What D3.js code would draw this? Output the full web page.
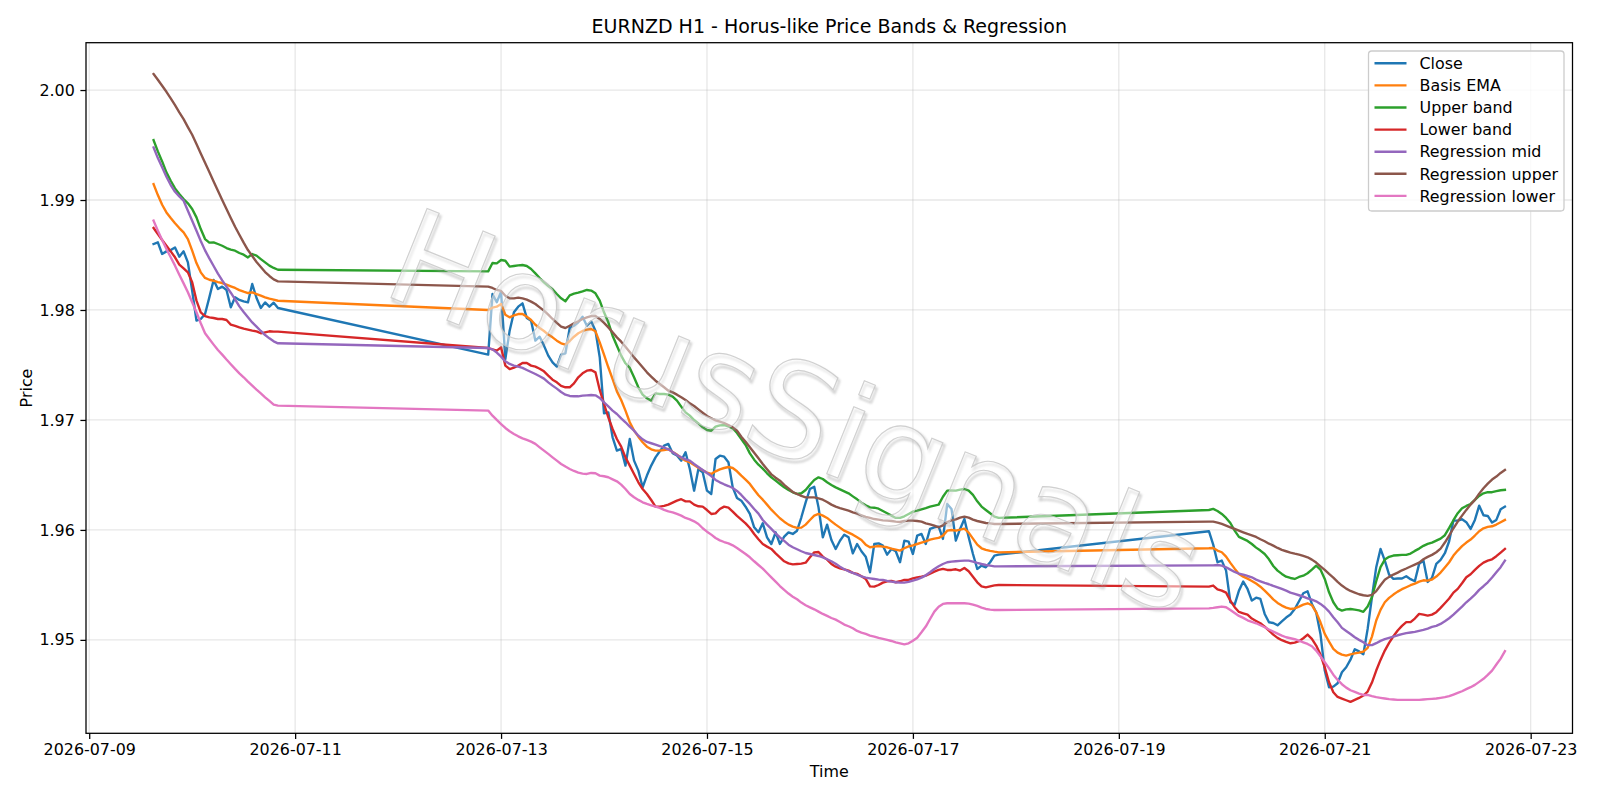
<!DOCTYPE html>
<html>
<head>
<meta charset="utf-8">
<script src="https://cdn.jsdelivr.net/npm/d3@7"></script>
<style>
  body { margin: 0; background: #fff; }
  text { font-family: "DejaVu Sans", sans-serif; }
</style>
</head>
<body>
<div id="chart"></div>
<script>
// hourly sessions: first bar (UTC) and number of bars
var sessions = [["2026-07-09T15:00:00Z", 30], ["2026-07-12T21:00:00Z", 120], ["2026-07-19T21:00:00Z", 70]];

var closePrice = [
  1.98600, 1.98615, 1.98509, 1.98533, 1.98545, 1.98569, 1.98485, 1.98533, 1.98433, 1.98175,
  1.97903, 1.97918, 1.97964, 1.98115, 1.98273, 1.98191, 1.98212, 1.98182, 1.98024, 1.98115,
  1.98091, 1.98078, 1.98069, 1.98236, 1.98109, 1.98018, 1.98069, 1.98030, 1.98066, 1.98018,
  1.97594, 1.98145, 1.98070, 1.98166, 1.97554, 1.97812, 1.97979, 1.98030, 1.98060, 1.97927,
  1.97903, 1.97721, 1.97757, 1.97676, 1.97585, 1.97524, 1.97485, 1.97594, 1.97606, 1.97836,
  1.97857, 1.97888, 1.97939, 1.97857, 1.97897, 1.97812, 1.97570, 1.97060, 1.97069, 1.96842,
  1.96721, 1.96736, 1.96585, 1.96827, 1.96630, 1.96539, 1.96388, 1.96494, 1.96585, 1.96660,
  1.96715, 1.96766, 1.96782, 1.96697, 1.96676, 1.96630, 1.96706, 1.96554, 1.96357, 1.96554,
  1.96524, 1.96357, 1.96327, 1.96645, 1.96675, 1.96666, 1.96615, 1.96387, 1.96290, 1.96266,
  1.96211, 1.96145, 1.96024, 1.95978, 1.96060, 1.95933, 1.95872, 1.95978, 1.95872, 1.95939,
  1.95978, 1.95963, 1.95993, 1.96115, 1.96251, 1.96372, 1.96393, 1.96205, 1.95933, 1.96048,
  1.95908, 1.95827, 1.95902, 1.95957, 1.95933, 1.95787, 1.95872, 1.95806, 1.95757, 1.95615,
  1.95872, 1.95878, 1.95857, 1.95775, 1.95827, 1.95806, 1.95706, 1.95902, 1.95893, 1.95781,
  1.95948, 1.95963, 1.95872, 1.96009, 1.96024, 1.96030, 1.95918, 1.96236, 1.96190, 1.95902,
  1.96009, 1.96100, 1.95933, 1.95781, 1.95645, 1.95675, 1.95660, 1.95706, 1.95766, 1.95775,
  1.95988, 1.95866, 1.95706, 1.95721, 1.95630, 1.95342, 1.95321, 1.95448, 1.95530, 1.95463,
  1.95357, 1.95384, 1.95372, 1.95236, 1.95160, 1.95154, 1.95133, 1.95169, 1.95203, 1.95230,
  1.95281, 1.95351, 1.95424, 1.95442, 1.95327, 1.95251, 1.95054, 1.94721, 1.94569, 1.94575,
  1.94606, 1.94706, 1.94751, 1.94820, 1.94915, 1.94895, 1.94870, 1.95100, 1.95388, 1.95661,
  1.95827, 1.95721, 1.95594, 1.95555, 1.95558, 1.95558, 1.95579, 1.95552, 1.95533, 1.95691,
  1.95721, 1.95527, 1.95564, 1.95691, 1.95727, 1.95788, 1.95897, 1.96085, 1.96085, 1.96097,
  1.96070, 1.96009, 1.96091, 1.96221, 1.96133, 1.96127, 1.96067, 1.96091, 1.96188, 1.96212
];

var basisEma = [
  1.99145, 1.99045, 1.98957, 1.98887, 1.98836, 1.98788, 1.98745, 1.98706, 1.98645, 1.98539,
  1.98427, 1.98342, 1.98291, 1.98275, 1.98266, 1.98254, 1.98245, 1.98230, 1.98215, 1.98200,
  1.98181, 1.98166, 1.98154, 1.98160, 1.98145, 1.98130, 1.98115, 1.98103, 1.98094, 1.98084,
  1.98000, 1.98021, 1.98030, 1.98054, 1.97957, 1.97933, 1.97951, 1.97963, 1.97963, 1.97939,
  1.97909, 1.97866, 1.97836, 1.97809, 1.97776, 1.97751, 1.97721, 1.97697, 1.97685, 1.97718,
  1.97757, 1.97788, 1.97809, 1.97821, 1.97827, 1.97806, 1.97706, 1.97594, 1.97479, 1.97372,
  1.97260, 1.97182, 1.97085, 1.96979, 1.96903, 1.96848, 1.96797, 1.96757, 1.96733, 1.96721,
  1.96721, 1.96727, 1.96733, 1.96709, 1.96685, 1.96654, 1.96630, 1.96615, 1.96590, 1.96566,
  1.96542, 1.96521, 1.96509, 1.96533, 1.96551, 1.96563, 1.96572, 1.96563, 1.96533, 1.96493,
  1.96457, 1.96418, 1.96366, 1.96315, 1.96275, 1.96230, 1.96184, 1.96145, 1.96106, 1.96075,
  1.96048, 1.96030, 1.96018, 1.96021, 1.96048, 1.96090, 1.96130, 1.96145, 1.96130, 1.96109,
  1.96078, 1.96048, 1.96021, 1.95993, 1.95975, 1.95957, 1.95933, 1.95908, 1.95866, 1.95842,
  1.95848, 1.95854, 1.95848, 1.95842, 1.95830, 1.95821, 1.95812, 1.95833, 1.95851, 1.95860,
  1.95872, 1.95884, 1.95896, 1.95912, 1.95921, 1.95927, 1.95948, 1.95993, 1.95999, 1.95993,
  1.96002, 1.96012, 1.95975, 1.95921, 1.95866, 1.95833, 1.95818, 1.95809, 1.95802, 1.95796,
  1.95833, 1.95836, 1.95812, 1.95797, 1.95757, 1.95700, 1.95648, 1.95600, 1.95575, 1.95557,
  1.95536, 1.95512, 1.95484, 1.95448, 1.95409, 1.95369, 1.95336, 1.95312, 1.95294, 1.95281,
  1.95287, 1.95303, 1.95321, 1.95333, 1.95315, 1.95251, 1.95160, 1.95054, 1.94984, 1.94918,
  1.94884, 1.94866, 1.94857, 1.94869, 1.94878, 1.94884, 1.94894, 1.94927, 1.95030, 1.95176,
  1.95273, 1.95342, 1.95382, 1.95412, 1.95439, 1.95461, 1.95479, 1.95497, 1.95512, 1.95530,
  1.95542, 1.95539, 1.95549, 1.95576, 1.95612, 1.95658, 1.95706, 1.95767, 1.95812, 1.95852,
  1.95885, 1.95912, 1.95949, 1.95988, 1.96015, 1.96027, 1.96033, 1.96049, 1.96070, 1.96091
];

var upperBand = [
  1.99545, 1.99442, 1.99351, 1.99251, 1.99175, 1.99106, 1.99054, 1.99009, 1.98970, 1.98918,
  1.98842, 1.98736, 1.98645, 1.98612, 1.98615, 1.98600, 1.98584, 1.98563, 1.98548, 1.98539,
  1.98518, 1.98503, 1.98478, 1.98509, 1.98494, 1.98463, 1.98433, 1.98403, 1.98382, 1.98366,
  1.98351, 1.98427, 1.98424, 1.98454, 1.98448, 1.98394, 1.98400, 1.98406, 1.98409, 1.98400,
  1.98373, 1.98333, 1.98291, 1.98251, 1.98218, 1.98188, 1.98145, 1.98106, 1.98079, 1.98133,
  1.98148, 1.98157, 1.98169, 1.98182, 1.98176, 1.98151, 1.98085, 1.97979, 1.97888, 1.97766,
  1.97675, 1.97585, 1.97515, 1.97473, 1.97388, 1.97297, 1.97230, 1.97197, 1.97176, 1.97242,
  1.97236, 1.97236, 1.97230, 1.97212, 1.97176, 1.97121, 1.97069, 1.97039, 1.96999, 1.96969,
  1.96933, 1.96909, 1.96902, 1.96939, 1.96951, 1.96954, 1.96942, 1.96924, 1.96881, 1.96827,
  1.96772, 1.96696, 1.96639, 1.96593, 1.96557, 1.96515, 1.96478, 1.96448, 1.96418, 1.96387,
  1.96363, 1.96342, 1.96327, 1.96333, 1.96363, 1.96411, 1.96454, 1.96478, 1.96463, 1.96433,
  1.96409, 1.96387, 1.96369, 1.96351, 1.96333, 1.96305, 1.96278, 1.96248, 1.96224, 1.96205,
  1.96202, 1.96193, 1.96172, 1.96151, 1.96130, 1.96109, 1.96109, 1.96124, 1.96145, 1.96166,
  1.96175, 1.96187, 1.96199, 1.96212, 1.96221, 1.96230, 1.96302, 1.96357, 1.96360, 1.96357,
  1.96366, 1.96372, 1.96357, 1.96318, 1.96260, 1.96212, 1.96181, 1.96151, 1.96121, 1.96109,
  1.96181, 1.96191, 1.96172, 1.96145, 1.96109, 1.96063, 1.95994, 1.95936, 1.95918, 1.95900,
  1.95872, 1.95839, 1.95812, 1.95781, 1.95733, 1.95672, 1.95630, 1.95600, 1.95575, 1.95563,
  1.95554, 1.95572, 1.95584, 1.95606, 1.95639, 1.95675, 1.95639, 1.95554, 1.95433, 1.95342,
  1.95284, 1.95266, 1.95278, 1.95281, 1.95275, 1.95269, 1.95255, 1.95303, 1.95388, 1.95533,
  1.95661, 1.95730, 1.95755, 1.95767, 1.95770, 1.95773, 1.95773, 1.95785, 1.95809, 1.95830,
  1.95855, 1.95873, 1.95885, 1.95903, 1.95921, 1.95952, 1.96018, 1.96088, 1.96152, 1.96197,
  1.96218, 1.96236, 1.96273, 1.96309, 1.96333, 1.96343, 1.96343, 1.96352, 1.96361, 1.96364
];

var lowerBand = [
  1.98746, 1.98691, 1.98636, 1.98585, 1.98533, 1.98479, 1.98412, 1.98379, 1.98342, 1.98252,
  1.98085, 1.97979, 1.97945, 1.97933, 1.97927, 1.97918, 1.97918, 1.97909, 1.97867, 1.97855,
  1.97842, 1.97830, 1.97821, 1.97812, 1.97806, 1.97788, 1.97797, 1.97806, 1.97803, 1.97803,
  1.97654, 1.97642, 1.97630, 1.97660, 1.97494, 1.97463, 1.97476, 1.97494, 1.97518, 1.97518,
  1.97494, 1.97485, 1.97466, 1.97442, 1.97403, 1.97366, 1.97342, 1.97309, 1.97297, 1.97297,
  1.97333, 1.97388, 1.97424, 1.97448, 1.97454, 1.97433, 1.97273, 1.97145, 1.97024, 1.96918,
  1.96827, 1.96757, 1.96660, 1.96585, 1.96509, 1.96433, 1.96372, 1.96327, 1.96272, 1.96212,
  1.96212, 1.96218, 1.96230, 1.96248, 1.96266, 1.96279, 1.96260, 1.96260, 1.96230, 1.96215,
  1.96212, 1.96181, 1.96145, 1.96151, 1.96190, 1.96212, 1.96202, 1.96166, 1.96127, 1.96093,
  1.96060, 1.96018, 1.95963, 1.95915, 1.95872, 1.95848, 1.95827, 1.95787, 1.95751, 1.95715,
  1.95696, 1.95687, 1.95690, 1.95693, 1.95702, 1.95751, 1.95796, 1.95799, 1.95757, 1.95730,
  1.95690, 1.95666, 1.95651, 1.95642, 1.95630, 1.95609, 1.95600, 1.95578, 1.95554, 1.95487,
  1.95484, 1.95499, 1.95521, 1.95533, 1.95536, 1.95524, 1.95533, 1.95545, 1.95545, 1.95560,
  1.95569, 1.95575, 1.95584, 1.95602, 1.95621, 1.95636, 1.95645, 1.95636, 1.95636, 1.95642,
  1.95630, 1.95654, 1.95624, 1.95575, 1.95524, 1.95487, 1.95478, 1.95487, 1.95496, 1.95499,
  1.95484, 1.95494, 1.95460, 1.95448, 1.95430, 1.95357, 1.95297, 1.95254, 1.95242, 1.95230,
  1.95194, 1.95172, 1.95151, 1.95121, 1.95084, 1.95048, 1.95018, 1.94997, 1.94981, 1.94969,
  1.94975, 1.94988, 1.95015, 1.95048, 1.95009, 1.94948, 1.94866, 1.94751, 1.94615, 1.94524,
  1.94481, 1.94466, 1.94451, 1.94436, 1.94454, 1.94472, 1.94494, 1.94530, 1.94612, 1.94721,
  1.94818, 1.94903, 1.94973, 1.95033, 1.95085, 1.95127, 1.95161, 1.95161, 1.95194, 1.95236,
  1.95230, 1.95221, 1.95230, 1.95252, 1.95291, 1.95333, 1.95376, 1.95430, 1.95464, 1.95515,
  1.95570, 1.95597, 1.95636, 1.95673, 1.95703, 1.95721, 1.95733, 1.95761, 1.95794, 1.95827
];

var regMid = [
  1.99478, 1.99381, 1.99297, 1.99212, 1.99136, 1.99075, 1.99033, 1.98994, 1.98903, 1.98812,
  1.98721, 1.98627, 1.98542, 1.98469, 1.98400, 1.98330, 1.98269, 1.98212, 1.98157, 1.98097,
  1.98033, 1.97981, 1.97933, 1.97887, 1.97848, 1.97809, 1.97772, 1.97742, 1.97715, 1.97697,
  1.97654, 1.97642, 1.97612, 1.97576, 1.97533, 1.97509, 1.97494, 1.97485, 1.97473, 1.97454,
  1.97436, 1.97418, 1.97397, 1.97376, 1.97342, 1.97312, 1.97285, 1.97254, 1.97230, 1.97218,
  1.97215, 1.97215, 1.97221, 1.97224, 1.97227, 1.97224, 1.97200, 1.97160, 1.97124, 1.97085,
  1.97054, 1.97015, 1.96979, 1.96939, 1.96903, 1.96857, 1.96824, 1.96800, 1.96788, 1.96776,
  1.96763, 1.96748, 1.96733, 1.96709, 1.96682, 1.96660, 1.96642, 1.96630, 1.96599, 1.96572,
  1.96545, 1.96518, 1.96490, 1.96454, 1.96433, 1.96415, 1.96399, 1.96381, 1.96354, 1.96318,
  1.96275, 1.96236, 1.96190, 1.96148, 1.96090, 1.96048, 1.96009, 1.95969, 1.95933, 1.95900,
  1.95866, 1.95842, 1.95824, 1.95806, 1.95790, 1.95781, 1.95772, 1.95763, 1.95751, 1.95733,
  1.95715, 1.95693, 1.95666, 1.95642, 1.95624, 1.95609, 1.95593, 1.95578, 1.95566, 1.95560,
  1.95554, 1.95548, 1.95545, 1.95536, 1.95530, 1.95524, 1.95521, 1.95521, 1.95527, 1.95539,
  1.95551, 1.95566, 1.95587, 1.95615, 1.95645, 1.95669, 1.95690, 1.95706, 1.95712, 1.95715,
  1.95718, 1.95721, 1.95721, 1.95712, 1.95700, 1.95690, 1.95681, 1.95675, 1.95669, 1.95669,
  1.95678, 1.95678, 1.95681, 1.95675, 1.95660, 1.95639, 1.95618, 1.95603, 1.95594, 1.95581,
  1.95569, 1.95548, 1.95533, 1.95518, 1.95506, 1.95491, 1.95478, 1.95463, 1.95448, 1.95430,
  1.95418, 1.95406, 1.95394, 1.95378, 1.95366, 1.95351, 1.95327, 1.95297, 1.95257, 1.95206,
  1.95160, 1.95109, 1.95081, 1.95054, 1.95024, 1.95000, 1.94978, 1.94952, 1.94952, 1.94970,
  1.94991, 1.95006, 1.95018, 1.95030, 1.95042, 1.95052, 1.95061, 1.95067, 1.95073, 1.95082,
  1.95091, 1.95103, 1.95118, 1.95127, 1.95145, 1.95170, 1.95197, 1.95230, 1.95267, 1.95303,
  1.95342, 1.95376, 1.95412, 1.95455, 1.95488, 1.95524, 1.95567, 1.95615, 1.95661, 1.95721
];

var regUpper = [
  2.00145, 2.00094, 2.00039, 1.99984, 1.99924, 1.99863, 1.99797, 1.99736, 1.99663, 1.99593,
  1.99509, 1.99424, 1.99339, 1.99254, 1.99169, 1.99084, 1.99000, 1.98918, 1.98836, 1.98757,
  1.98684, 1.98612, 1.98545, 1.98491, 1.98436, 1.98391, 1.98345, 1.98309, 1.98278, 1.98260,
  1.98212, 1.98200, 1.98182, 1.98173, 1.98130, 1.98106, 1.98106, 1.98112, 1.98106, 1.98094,
  1.98076, 1.98054, 1.98024, 1.97994, 1.97957, 1.97918, 1.97882, 1.97848, 1.97836, 1.97857,
  1.97879, 1.97897, 1.97918, 1.97933, 1.97945, 1.97945, 1.97918, 1.97882, 1.97842, 1.97797,
  1.97751, 1.97712, 1.97666, 1.97618, 1.97569, 1.97524, 1.97479, 1.97433, 1.97394, 1.97357,
  1.97327, 1.97297, 1.97266, 1.97251, 1.97230, 1.97206, 1.97182, 1.97151, 1.97127, 1.97096,
  1.97066, 1.97036, 1.97015, 1.96996, 1.96984, 1.96972, 1.96954, 1.96933, 1.96902, 1.96848,
  1.96802, 1.96751, 1.96702, 1.96651, 1.96599, 1.96551, 1.96505, 1.96475, 1.96448, 1.96409,
  1.96378, 1.96345, 1.96327, 1.96309, 1.96296, 1.96296, 1.96296, 1.96287, 1.96275, 1.96254,
  1.96230, 1.96212, 1.96199, 1.96187, 1.96175, 1.96160, 1.96148, 1.96133, 1.96118, 1.96109,
  1.96099, 1.96093, 1.96087, 1.96084, 1.96081, 1.96075, 1.96072, 1.96081, 1.96084, 1.96084,
  1.96081, 1.96075, 1.96060, 1.96051, 1.96039, 1.96024, 1.96042, 1.96072, 1.96087, 1.96096,
  1.96112, 1.96121, 1.96112, 1.96093, 1.96081, 1.96072, 1.96063, 1.96060, 1.96054, 1.96054,
  1.96075, 1.96075, 1.96066, 1.96054, 1.96039, 1.96024, 1.96009, 1.95994, 1.95978, 1.95963,
  1.95951, 1.95936, 1.95915, 1.95897, 1.95875, 1.95857, 1.95836, 1.95818, 1.95806, 1.95794,
  1.95784, 1.95775, 1.95763, 1.95751, 1.95730, 1.95703, 1.95669, 1.95636, 1.95600, 1.95566,
  1.95527, 1.95494, 1.95466, 1.95445, 1.95430, 1.95415, 1.95406, 1.95400, 1.95409, 1.95443,
  1.95497, 1.95546, 1.95573, 1.95594, 1.95612, 1.95633, 1.95649, 1.95667, 1.95685, 1.95703,
  1.95733, 1.95755, 1.95773, 1.95797, 1.95830, 1.95885, 1.95949, 1.96015, 1.96076, 1.96130,
  1.96182, 1.96230, 1.96273, 1.96330, 1.96379, 1.96421, 1.96458, 1.96485, 1.96518, 1.96545
];

var regLower = [
  1.98812, 1.98721, 1.98636, 1.98555, 1.98479, 1.98403, 1.98321, 1.98242, 1.98161, 1.98070,
  1.97979, 1.97879, 1.97788, 1.97736, 1.97685, 1.97636, 1.97594, 1.97549, 1.97506, 1.97464,
  1.97424, 1.97388, 1.97349, 1.97312, 1.97276, 1.97242, 1.97206, 1.97173, 1.97139, 1.97130,
  1.97085, 1.97039, 1.97000, 1.96963, 1.96927, 1.96897, 1.96873, 1.96851, 1.96833, 1.96818,
  1.96803, 1.96782, 1.96751, 1.96721, 1.96691, 1.96660, 1.96630, 1.96600, 1.96576, 1.96554,
  1.96536, 1.96521, 1.96512, 1.96509, 1.96518, 1.96515, 1.96494, 1.96488, 1.96479, 1.96460,
  1.96442, 1.96412, 1.96372, 1.96327, 1.96297, 1.96273, 1.96251, 1.96236, 1.96224, 1.96212,
  1.96200, 1.96182, 1.96169, 1.96160, 1.96145, 1.96130, 1.96109, 1.96096, 1.96078, 1.96054,
  1.96015, 1.95984, 1.95957, 1.95927, 1.95905, 1.95890, 1.95878, 1.95860, 1.95836, 1.95808,
  1.95781, 1.95751, 1.95715, 1.95681, 1.95648, 1.95608, 1.95569, 1.95530, 1.95490, 1.95454,
  1.95421, 1.95393, 1.95369, 1.95339, 1.95315, 1.95296, 1.95278, 1.95257, 1.95236, 1.95218,
  1.95199, 1.95184, 1.95163, 1.95139, 1.95124, 1.95106, 1.95081, 1.95066, 1.95054, 1.95039,
  1.95030, 1.95018, 1.95009, 1.95000, 1.94990, 1.94978, 1.94969, 1.94960, 1.94969, 1.94993,
  1.95020, 1.95069, 1.95121, 1.95190, 1.95257, 1.95302, 1.95327, 1.95333, 1.95333, 1.95333,
  1.95333, 1.95333, 1.95330, 1.95321, 1.95309, 1.95294, 1.95281, 1.95275, 1.95272, 1.95272,
  1.95287, 1.95291, 1.95297, 1.95303, 1.95297, 1.95272, 1.95245, 1.95218, 1.95200, 1.95178,
  1.95163, 1.95151, 1.95133, 1.95115, 1.95094, 1.95075, 1.95057, 1.95039, 1.95024, 1.95015,
  1.95006, 1.94994, 1.94978, 1.94963, 1.94942, 1.94903, 1.94851, 1.94797, 1.94742, 1.94684,
  1.94636, 1.94597, 1.94566, 1.94542, 1.94527, 1.94512, 1.94499, 1.94500, 1.94488, 1.94479,
  1.94473, 1.94467, 1.94461, 1.94458, 1.94455, 1.94455, 1.94455, 1.94455, 1.94455, 1.94455,
  1.94458, 1.94461, 1.94464, 1.94467, 1.94473, 1.94479, 1.94488, 1.94503, 1.94518, 1.94533,
  1.94552, 1.94570, 1.94591, 1.94618, 1.94646, 1.94682, 1.94721, 1.94776, 1.94830, 1.94897
];

var seriesNames = ["Close", "Basis EMA", "Upper band", "Lower band", "Regression mid", "Regression upper", "Regression lower"];
var seriesValues = [closePrice, basisEma, upperBand, lowerBand, regMid, regUpper, regLower];
var seriesColors = ["#1f77b4", "#ff7f0e", "#2ca02c", "#d62728", "#9467bd", "#8c564b", "#e377c2"];

var xTickDates = ["2026-07-09", "2026-07-11", "2026-07-13", "2026-07-15", "2026-07-17", "2026-07-19", "2026-07-21", "2026-07-23"];
var yTickValues = [1.95, 1.96, 1.97, 1.98, 1.99, 2.00];

// build the hourly time index
var times = [];
sessions.forEach(function(s) {
  var t0 = new Date(s[0]).getTime();
  for (var i = 0; i < s[1]; i++) times.push(new Date(t0 + i * 3600e3));
});

var W = 1600, H = 800;
var plot = {left: 86, right: 1572.5, top: 42.7, bottom: 733.3};

var svg = d3.select("#chart").append("svg")
  .attr("width", W)
  .attr("height", H);

// matplotlib-like 5% margins
var tMin = times[0].getTime(), tMax = times[times.length - 1].getTime();
var tPad = (tMax - tMin) * 0.05;
var allVals = d3.merge(seriesValues);
var vMin = d3.min(allVals), vMax = d3.max(allVals);
var vPad = (vMax - vMin) * 0.05;

var x = d3.scaleUtc()
  .domain([new Date(tMin - tPad), new Date(tMax + tPad)])
  .range([plot.left, plot.right]);

var y = d3.scaleLinear()
  .domain([vMin - vPad, vMax + vPad])
  .range([plot.bottom, plot.top]);

var xTicks = xTickDates.map(function(d) { return new Date(d + "T00:00:00Z"); });

// grid
var grid = svg.append("g").attr("class", "grid");
grid.selectAll(".gx")
  .data(xTicks)
.enter().append("line")
  .attr("x1", function(d) { return x(d); })
  .attr("x2", function(d) { return x(d); })
  .attr("y1", plot.top)
  .attr("y2", plot.bottom)
  .attr("stroke", "#b0b0b0")
  .attr("stroke-opacity", 0.3)
  .attr("stroke-width", 1.27);
grid.selectAll(".gy")
  .data(yTickValues)
.enter().append("line")
  .attr("x1", plot.left)
  .attr("x2", plot.right)
  .attr("y1", function(d) { return y(d); })
  .attr("y2", function(d) { return y(d); })
  .attr("stroke", "#b0b0b0")
  .attr("stroke-opacity", 0.3)
  .attr("stroke-width", 1.27);

// lines
svg.append("clipPath").attr("id", "plotclip")
  .append("rect")
  .attr("x", plot.left).attr("y", plot.top)
  .attr("width", plot.right - plot.left).attr("height", plot.bottom - plot.top);

var lineGroup = svg.append("g").attr("clip-path", "url(#plotclip)");
seriesValues.forEach(function(vals, k) {
  var line = d3.line()
    .x(function(d, i) { return x(times[i]); })
    .y(function(d) { return y(d); });
  lineGroup.append("path")
    .datum(vals)
    .attr("fill", "none")
    .attr("stroke", seriesColors[k])
    .attr("stroke-width", 2.38)
    .attr("stroke-linejoin", "round")
    .attr("stroke-linecap", "square")
    .attr("d", line);
});

// watermark: pale outlined text with a soft grey shadow outline
var defs = svg.append("defs");
defs.append("filter").attr("id", "wmblur")
  .append("feGaussianBlur").attr("stdDeviation", 0.8);

var wm = svg.append("g")
  .attr("transform", "translate(796,410) rotate(22)");
wm.append("text")
  .attr("x", 2.5).attr("y", 2.5)
  .attr("text-anchor", "middle")
  .attr("dy", "0.36em")
  .style("font-size", "132px")
  .attr("fill", "none")
  .attr("stroke", "#9a9a9a")
  .attr("stroke-opacity", 0.55)
  .attr("stroke-width", 1.8)
  .attr("filter", "url(#wmblur)")
  .text("HorusSignals");
wm.append("text")
  .attr("text-anchor", "middle")
  .attr("dy", "0.36em")
  .style("font-size", "132px")
  .attr("fill", "#ffffff")
  .attr("fill-opacity", 0.5)
  .attr("stroke", "#c4c4c4")
  .attr("stroke-opacity", 0.8)
  .attr("stroke-width", 1.1)
  .text("HorusSignals");

// frame
svg.append("rect")
  .attr("x", plot.left).attr("y", plot.top)
  .attr("width", plot.right - plot.left).attr("height", plot.bottom - plot.top)
  .attr("fill", "none")
  .attr("stroke", "#000")
  .attr("stroke-width", 1.27);

// axes
var xAxis = svg.append("g")
  .attr("transform", "translate(0," + plot.bottom + ")")
  .call(d3.axisBottom(x).tickValues(xTicks).tickFormat(d3.utcFormat("%Y-%m-%d")).tickSize(5.6).tickPadding(5.2));
var yAxis = svg.append("g")
  .attr("transform", "translate(" + plot.left + ",0)")
  .call(d3.axisLeft(y).tickValues(yTickValues).tickFormat(d3.format(".2f")).tickSize(5.6).tickPadding(5.6));
[xAxis, yAxis].forEach(function(a) {
  a.select(".domain").remove();
  a.selectAll(".tick line").attr("stroke", "#000").attr("stroke-width", 1.27);
  a.selectAll(".tick text")
    .attr("fill", "#000")
    .style("font-family", "DejaVu Sans, sans-serif")
    .style("font-size", "15.9px");
});

// title and axis labels
svg.append("text")
  .attr("x", (plot.left + plot.right) / 2)
  .attr("y", 33)
  .attr("text-anchor", "middle")
  .style("font-size", "19px")
  .text("EURNZD H1 - Horus-like Price Bands & Regression");

svg.append("text")
  .attr("x", (plot.left + plot.right) / 2)
  .attr("y", 777)
  .attr("text-anchor", "middle")
  .style("font-size", "15.9px")
  .text("Time");

svg.append("text")
  .attr("transform", "translate(32," + ((plot.top + plot.bottom) / 2) + ") rotate(-90)")
  .attr("text-anchor", "middle")
  .style("font-size", "15.9px")
  .text("Price");

// legend
var lg = svg.append("g");
lg.append("rect")
  .attr("x", 1368.5).attr("y", 51)
  .attr("width", 195.5).attr("height", 160)
  .attr("rx", 3.2)
  .attr("fill", "#fff")
  .attr("fill-opacity", 0.8)
  .attr("stroke", "#cccccc")
  .attr("stroke-width", 1.27);
seriesNames.forEach(function(name, k) {
  var cy = 63.3 + k * 22.1;
  lg.append("line")
    .attr("x1", 1374.5).attr("x2", 1406.5)
    .attr("y1", cy).attr("y2", cy)
    .attr("stroke", seriesColors[k])
    .attr("stroke-width", 2.38);
  lg.append("text")
    .attr("x", 1419.5)
    .attr("y", cy + 5.7)
    .style("font-size", "15.9px")
    .text(name);
});
</script>
</body>
</html>
